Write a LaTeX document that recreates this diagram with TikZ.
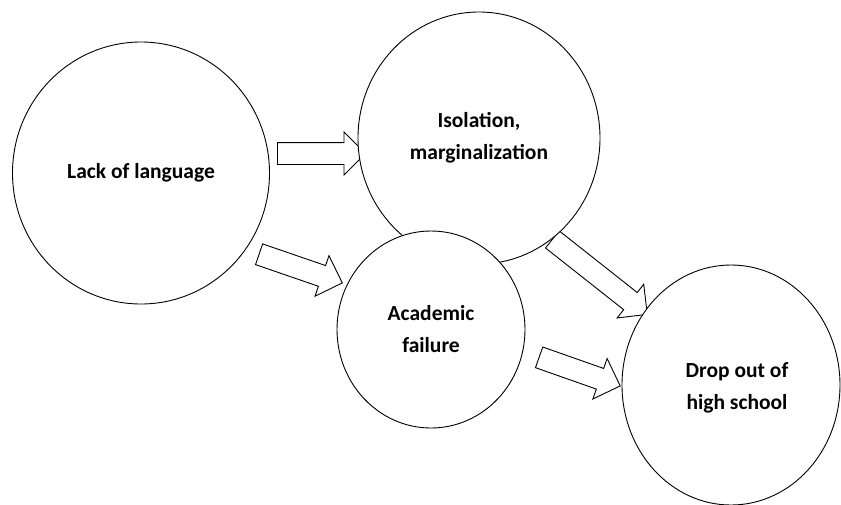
\documentclass[tikz,border=0pt]{standalone}
\usepackage{fontspec}
\setmainfont{Carlito}
\usetikzlibrary{shapes.geometric,shapes.arrows}
\begin{document}
\begin{tikzpicture}[x=1pt,y=-1pt,
  bubble/.style={ellipse, draw=black, fill=white, line width=0.9pt, inner sep=0pt,
    align=center, font=\bfseries\fontsize{21.5}{32}\selectfont},
  blockarrow/.style={single arrow, draw=black, fill=white, line width=0.9pt, inner sep=0pt,
    text height=21pt, text depth=0pt, text width=0pt,
    single arrow head extend=10.5pt, single arrow tip angle=90,
    anchor=center}
]
\useasboundingbox (0,0) rectangle (841,504);
% arrows (behind circles)
\node[blockarrow, minimum height=88pt] (a1) at (316,153.5) {};
\node[blockarrow, minimum height=88pt, rotate=-19] (a2) at (295.5,266.8) {};
\node[blockarrow, minimum height=121pt, rotate=-38.3] (a3) at (595.5,273.5) {};
\node[blockarrow, minimum height=86pt, rotate=-19.4] (a4) at (574.5,369.8) {};
% circles
\node[bubble, minimum width=257pt, minimum height=262pt] (lack) at (141,173) {Lack of language};
\node[bubble, minimum width=242pt, minimum height=252pt] (iso) at (479,138) {Isolation,\\marginalization};
\node[bubble, minimum width=188pt, minimum height=197pt] (acad) at (431,329.5) {Academic\\failure};
\node[bubble, minimum width=218pt, minimum height=240pt] (drop) at (731,385) {};
\node[font=\bfseries\fontsize{21.5}{32}\selectfont, align=center] (droptext) at (737,388) {Drop out of\\high school};
\end{tikzpicture}
\end{document}
